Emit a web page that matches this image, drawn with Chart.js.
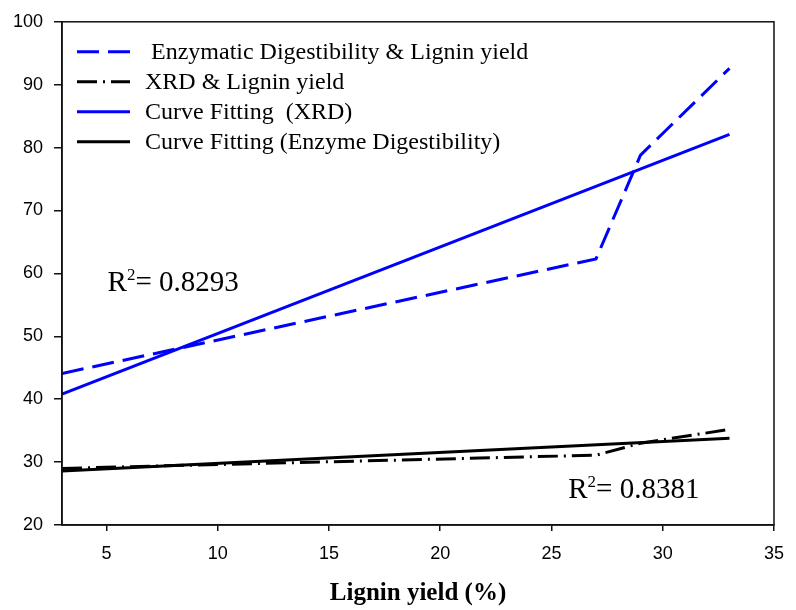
<!DOCTYPE html>
<html>
<head>
<meta charset="utf-8">
<script src="https://cdn.jsdelivr.net/npm/chart.js@4"></script>
<style>
  html, body { margin: 0; padding: 0; background: #fff; }
  #wrap { width: 796px; height: 610px; }
</style>
</head>
<body>
<div id="wrap"><canvas id="chart" width="796" height="610"></canvas></div>
<script>
// data
const ligninYield = [3, 27, 29, 33];
const enzymaticDigestibility = [44.1, 62.3, 78.8, 92.6];
const xrdValues = [29.0, 31.1, 33.0, 35.2];

const fitX = [3, 33];
const fitXrd = [40.8, 82.1];
const fitEnzyme = [28.6, 33.8];

const xTickValues = [5, 10, 15, 20, 25, 30, 35];
const yTickValues = [20, 30, 40, 50, 60, 70, 80, 90, 100];

const r2Labels = ['0.8293', '0.8381'];

const BLUE = '#0000ff';
const BLACK = '#000000';
const SERIF = '"Liberation Serif", "Times New Roman", serif';

const toPoints = (xs, ys) => xs.map((x, i) => ({x: x, y: ys[i]}));

// legend drawn inside the plot box, top left
const boxLegendPlugin = {
  id: 'boxLegend',
  afterDraw(chart) {
    const {ctx, chartArea: {left, top}} = chart;
    ctx.save();
    ctx.font = '24px ' + SERIF;
    ctx.textBaseline = 'middle';
    ctx.fillStyle = BLACK;
    chart.data.datasets.forEach((ds, i) => {
      const y = top + 30 + i * 30;
      ctx.beginPath();
      ctx.lineWidth = ds.borderWidth;
      ctx.strokeStyle = ds.borderColor;
      ctx.setLineDash(ds.borderDash || []);
      ctx.moveTo(left + 15, y);
      ctx.lineTo(left + 68, y);
      ctx.stroke();
      ctx.setLineDash([]);
      ctx.fillText(ds.label, left + 83, y + 1);
    });
    ctx.restore();
  }
};

// frame round the plot area + R2 notes
const frameAndNotesPlugin = {
  id: 'frameAndNotes',
  afterDraw(chart) {
    const {ctx, chartArea: {left, top, right, bottom}, scales: {x, y}} = chart;
    ctx.save();
    ctx.strokeStyle = '#111';
    ctx.lineWidth = 1.5;
    ctx.strokeRect(left, top, right - left, bottom - top);

    const notes = [
      {text: r2Labels[0], px: x.getPixelForValue(5.05), py: y.getPixelForValue(57.2)},
      {text: r2Labels[1], px: x.getPixelForValue(25.75), py: y.getPixelForValue(24.3)}
    ];
    ctx.fillStyle = BLACK;
    ctx.textBaseline = 'alphabetic';
    notes.forEach(n => {
      let cx = n.px;
      ctx.font = '29px ' + SERIF;
      ctx.fillText('R', cx, n.py);
      cx += ctx.measureText('R').width;
      ctx.font = '17px ' + SERIF;
      ctx.fillText('2', cx, n.py - 11);
      cx += ctx.measureText('2').width;
      ctx.font = '29px ' + SERIF;
      ctx.fillText('= ' + n.text, cx, n.py);
    });
    ctx.restore();
  }
};

Chart.defaults.font.family = '"Liberation Sans", Arial, sans-serif';
Chart.defaults.color = BLACK;

new Chart(document.getElementById('chart').getContext('2d'), {
  type: 'line',
  plugins: [boxLegendPlugin, frameAndNotesPlugin],
  data: {
    datasets: [
      {
        label: ' Enzymatic Digestibility & Lignin yield',
        data: toPoints(ligninYield, enzymaticDigestibility),
        borderColor: BLUE,
        borderWidth: 3,
        borderDash: [22, 9],
        pointRadius: 0,
        tension: 0,
        fill: false
      },
      {
        label: 'XRD & Lignin yield',
        data: toPoints(ligninYield, xrdValues),
        borderColor: BLACK,
        borderWidth: 3,
        borderDash: [20, 6, 2, 6],
        pointRadius: 0,
        tension: 0,
        fill: false
      },
      {
        label: 'Curve Fitting  (XRD)',
        data: toPoints(fitX, fitXrd),
        borderColor: BLUE,
        borderWidth: 3,
        pointRadius: 0,
        tension: 0,
        fill: false
      },
      {
        label: 'Curve Fitting (Enzyme Digestibility)',
        data: toPoints(fitX, fitEnzyme),
        borderColor: BLACK,
        borderWidth: 3,
        pointRadius: 0,
        tension: 0,
        fill: false
      }
    ]
  },
  options: {
    responsive: false,
    animation: false,
    devicePixelRatio: 1,
    layout: {
      padding: {left: 0, top: 19, right: 14, bottom: 0}
    },
    plugins: {
      legend: {display: false},
      tooltip: {enabled: false}
    },
    scales: {
      x: {
        type: 'linear',
        min: 3,
        max: 35,
        afterBuildTicks: scale => {
          scale.ticks = xTickValues.map(v => ({value: v}));
        },
        afterFit: scale => { scale.height = 85; },
        ticks: {
          font: {size: 18},
          color: BLACK,
          padding: 12,
          maxRotation: 0
        },
        grid: {
          drawOnChartArea: false,
          drawTicks: true,
          tickLength: 6,
          color: '#111',
          lineWidth: 1.5
        },
        border: {display: true, color: '#111', width: 1.5},
        title: {
          display: true,
          text: 'Lignin yield (%)',
          color: BLACK,
          font: {family: SERIF, size: 25, weight: 'bold'},
          padding: {top: 0, bottom: 1}
        }
      },
      y: {
        type: 'linear',
        min: 20,
        max: 100,
        afterBuildTicks: scale => {
          scale.ticks = yTickValues.map(v => ({value: v}));
        },
        afterFit: scale => { scale.width = 62; },
        ticks: {
          font: {size: 18},
          color: BLACK,
          padding: 11
        },
        grid: {
          drawOnChartArea: false,
          drawTicks: true,
          tickLength: 8,
          color: '#111',
          lineWidth: 1.5
        },
        border: {display: true, color: '#111', width: 1.5}
      }
    }
  }
});
</script>
</body>
</html>
